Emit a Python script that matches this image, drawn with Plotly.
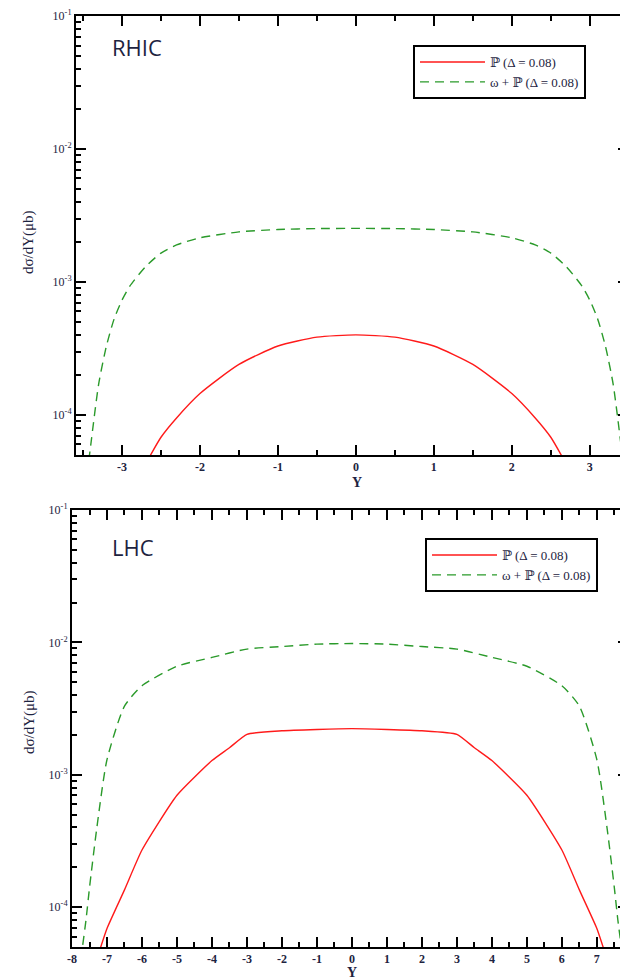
import plotly.graph_objects as go
import numpy as np

# ---------------- data ----------------
rhic_y_green = [-3.45, -3.4, -3.3, -3.2, -3.1, -3.0, -2.9, -2.7, -2.5, -2.3, -2.0, -1.5, -1.0, -0.5, 0.0,
                0.5, 1.0, 1.5, 2.0, 2.3, 2.5, 2.7, 2.9, 3.0, 3.1, 3.2, 3.3, 3.4, 3.45]
rhic_green = [3.5e-5, 6e-5, 1.7e-4, 3.3e-4, 5.3e-4, 7.3e-4, 9.3e-4, 1.3e-3, 1.65e-3, 1.9e-3, 2.15e-3, 2.38e-3,
              2.48e-3, 2.52e-3, 2.53e-3, 2.52e-3, 2.48e-3, 2.38e-3, 2.15e-3, 1.9e-3, 1.65e-3, 1.3e-3,
              9.3e-4, 7.3e-4, 5.3e-4, 3.3e-4, 1.7e-4, 6e-5, 3.5e-5]

rhic_y_red = [-2.65, -2.5, -2.3, -2.0, -1.5, -1.0, -0.5, 0.0, 0.5, 1.0, 1.5, 2.0, 2.3, 2.5, 2.65]
rhic_red = [4.8e-5, 6.8e-5, 9.5e-5, 1.45e-4, 2.4e-4, 3.3e-4, 3.85e-4, 4.0e-4, 3.85e-4, 3.3e-4, 2.4e-4,
            1.45e-4, 9.5e-5, 6.8e-5, 4.8e-5]

lhc_y_green = [-7.75, -7.6, -7.5, -7.3, -7.0, -6.5, -6.0, -5.0, -4.0, -3.0, -2.0, -1.0, 0.0,
               1.0, 2.0, 3.0, 4.0, 5.0, 6.0, 6.5, 7.0, 7.3, 7.5, 7.6, 7.75]
lhc_green = [4e-5, 8e-5, 1.4e-4, 3.8e-4, 1.3e-3, 3.3e-3, 4.7e-3, 6.6e-3, 7.7e-3, 8.9e-3, 9.3e-3, 9.7e-3, 9.8e-3,
             9.7e-3, 9.3e-3, 8.9e-3, 7.7e-3, 6.6e-3, 4.7e-3, 3.3e-3, 1.3e-3, 3.8e-4, 1.4e-4, 8e-5, 4e-5]

lhc_y_red = [-7.2, -7.0, -6.5, -6.0, -5.0, -4.0, -3.5, -3.0, -2.0, -1.0, 0.0,
             1.0, 2.0, 3.0, 3.5, 4.0, 5.0, 6.0, 6.5, 7.0, 7.2]
lhc_red = [4.8e-5, 6.9e-5, 1.35e-4, 2.7e-4, 7.0e-4, 1.28e-3, 1.6e-3, 2.02e-3, 2.15e-3, 2.2e-3, 2.23e-3,
           2.2e-3, 2.15e-3, 2.02e-3, 1.6e-3, 1.28e-3, 7.0e-4, 2.7e-4, 1.35e-4, 6.9e-5, 4.8e-5]

y_tickvals = [1e-4, 1e-3, 1e-2, 1e-1]
y_ticktext = ["10<sup>-4</sup>", "10<sup>-3</sup>", "10<sup>-2</sup>", "10<sup>-1</sup>"]
rhic_xticks = [-3, -2, -1, 0, 1, 2, 3]
lhc_xticks = list(range(-8, 8))
name_red = "ℙ (Δ = 0.08)"
name_green = "ω + ℙ (Δ = 0.08)"

# ---------------- figure ----------------
OFF = 8              # page body margin
W, H = 628 - OFF, 979 - OFF
RED = "#ff1a1a"
GREEN = "#2a9a2a"
TXT = "#1d2340"
SERIF = "Liberation Serif, DejaVu Serif, serif"

fig = go.Figure()
fig.add_trace(go.Scatter(x=rhic_y_red, y=rhic_red, mode="lines", name=name_red,
                         line=dict(color=RED, width=1.4, shape="spline", smoothing=0.6),
                         xaxis="x", yaxis="y", legend="legend"))
fig.add_trace(go.Scatter(x=rhic_y_green, y=rhic_green, mode="lines", name=name_green,
                         line=dict(color=GREEN, width=1.4, dash="9px,6px", shape="spline", smoothing=0.6),
                         xaxis="x", yaxis="y", legend="legend"))
fig.add_trace(go.Scatter(x=lhc_y_red, y=lhc_red, mode="lines", name=name_red,
                         line=dict(color=RED, width=1.4, shape="spline", smoothing=0.5),
                         xaxis="x2", yaxis="y2", legend="legend2"))
fig.add_trace(go.Scatter(x=lhc_y_green, y=lhc_green, mode="lines", name=name_green,
                         line=dict(color=GREEN, width=1.4, dash="9px,6px", shape="spline", smoothing=0.6),
                         xaxis="x2", yaxis="y2", legend="legend2"))


def px(x):
    return (x - OFF) / W


def py(y):
    return 1 - (y - OFF) / H


common_ax = dict(showline=True, linecolor="black", linewidth=2, mirror="ticks", ticks="inside",
                 tickcolor="black", tickwidth=1.5, showgrid=False, zeroline=False, automargin=False)
yfont = dict(family=SERIF, size=12, color=TXT)
xfont = dict(family=SERIF, size=12, color=TXT)

t_l, t_t, t_b = 76, 16, 455
b_l, b_t, b_b = 72, 510, 947

fig.update_layout(
    template="none",
    width=W, height=H, margin=dict(l=0, r=0, t=0, b=0, autoexpand=False),
    paper_bgcolor="white", plot_bgcolor="white",
    xaxis=dict(domain=[px(t_l), 1], anchor="y", range=[-3.59, 3.49], tickvals=rhic_xticks,
               ticktext=["<b>%d</b>" % v for v in rhic_xticks], tickfont=xfont,
               ticklen=10, minor=dict(ticks="inside", dtick=0.5, ticklen=5, tickcolor="black", tickwidth=1.5),
               **common_ax),
    yaxis=dict(domain=[py(t_b), py(t_t)], anchor="x", type="log", range=[np.log10(5e-5), -1],
               tickvals=y_tickvals, ticktext=y_ticktext, ticklen=10, tickfont=yfont,
               minor=dict(ticks="inside", dtick="D1", ticklen=5, tickcolor="black", tickwidth=1.5),
               **common_ax),
    xaxis2=dict(domain=[px(b_l), 1], anchor="y2", range=[-8, 7.89], tickvals=lhc_xticks,
                ticktext=["<b>%d</b>" % v for v in lhc_xticks], tickfont=xfont,
                ticklen=10, minor=dict(ticks="inside", dtick=0.5, ticklen=5, tickcolor="black", tickwidth=1.5),
                **common_ax),
    yaxis2=dict(domain=[py(b_b), py(b_t)], anchor="x2", type="log", range=[np.log10(5e-5), -1],
                tickvals=y_tickvals, ticktext=y_ticktext, ticklen=10, tickfont=yfont,
                minor=dict(ticks="inside", dtick="D1", ticklen=5, tickcolor="black", tickwidth=1.5),
                **common_ax),
    legend=dict(x=px(413), y=py(45), xanchor="left", yanchor="top", bgcolor="white",
                bordercolor="black", borderwidth=2, font=dict(family=SERIF, size=13, color=TXT),
                tracegroupgap=0, itemwidth=65),
    legend2=dict(x=px(425), y=py(538), xanchor="left", yanchor="top", bgcolor="white",
                 bordercolor="black", borderwidth=2, font=dict(family=SERIF, size=13, color=TXT),
                 tracegroupgap=0, itemwidth=65),
    showlegend=True,
)


def label(text, x, y, size, family=SERIF, angle=0):
    return dict(text=text, x=px(x), y=py(y), xref="paper", yref="paper", showarrow=False,
                xanchor="center", yanchor="middle", textangle=angle,
                font=dict(family=family, size=size, color=TXT))


SANS = "Open Sans, Liberation Sans, sans-serif"
ann = [
    label("RHIC", 137, 47, 22, SANS),
    label("LHC", 133, 547, 22, SANS),
    label("dσ/dY(μb)", 29, 242, 15, angle=-90),
    label("dσ/dY(μb)", 29, 722, 15, angle=-90),
    label("<b>Y</b>", 357, 482, 14),
    label("<b>Y</b>", 352, 972, 14),
]
fig.update_layout(annotations=ann)

fig.write_html("out.html")
